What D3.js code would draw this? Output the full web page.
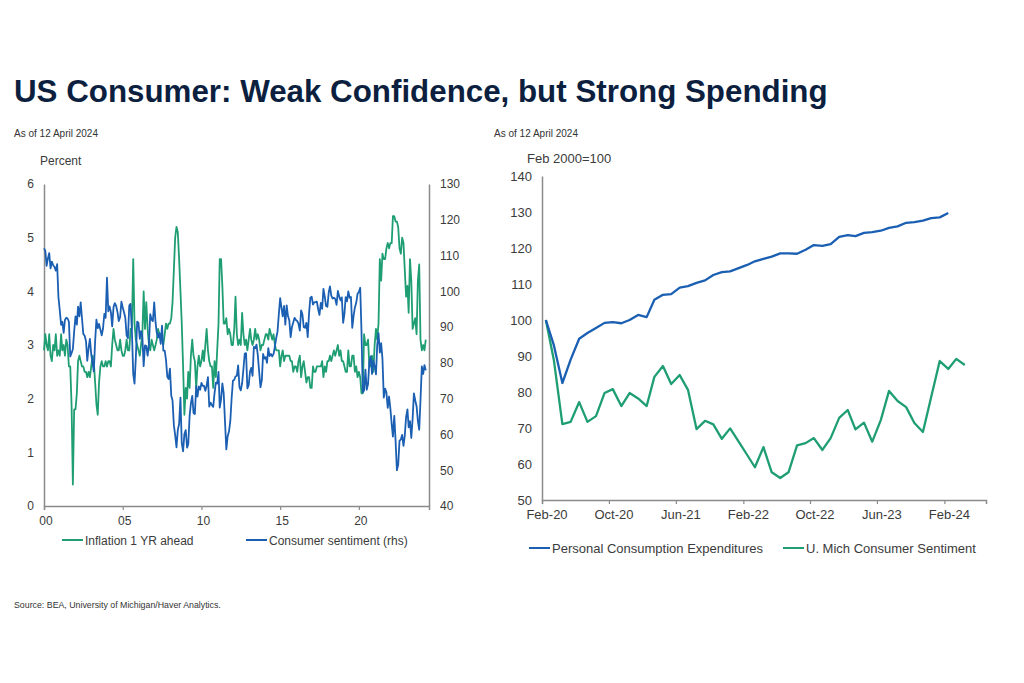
<!DOCTYPE html>
<html><head><meta charset="utf-8">
<script src="https://cdn.jsdelivr.net/npm/d3@7"></script>
<style>
body{margin:0;background:#fff;}
svg text{font-family:"Liberation Sans",Arial,Helvetica,sans-serif;}
</style>
</head><body>
<svg id="chart" width="1024" height="683"></svg>
<script>
// ---------------- DATA ----------------
// Left panel: monthly from Jan 2000
const leftStartYear = 2000;
const inflation1YrAhead = [
  2.9,3.2,3.0,2.9,3.2,2.8,2.7,3.0,2.9,3.2,2.8,2.9,   // 2000
  2.8,3.2,2.9,3.0,2.8,3.1,3.0,2.6,2.6,1.9,0.4,1.8,   // 2001
  1.8,2.1,2.7,2.8,2.7,2.6,2.6,2.5,2.5,2.4,2.5,2.4,   // 2002
  2.6,2.8,2.7,2.3,1.9,1.7,2.3,2.6,2.7,2.6,2.6,2.7,   // 2003
  2.6,2.7,2.7,2.6,3.0,3.3,3.1,3.0,2.9,2.9,3.1,2.9,   // 2004
  2.8,2.8,2.9,3.1,2.9,2.9,3.3,3.3,4.6,3.4,3.1,3.0,   // 2005
  2.9,2.8,3.0,3.2,4.0,3.3,3.8,3.3,3.0,2.9,3.1,3.0,   // 2006
  2.9,3.0,3.1,3.3,3.2,3.2,3.1,3.0,3.2,3.4,3.3,3.4,   // 2007
  3.4,3.5,3.8,4.4,5.0,5.2,5.1,4.6,4.0,3.4,2.6,1.7,   // 2008
  2.2,2.0,2.5,2.2,2.8,3.1,2.8,2.7,2.2,2.6,2.8,2.6,   // 2009
  2.7,2.9,2.7,3.0,3.3,2.9,2.7,2.6,2.6,2.2,2.7,2.4,   // 2010
  2.9,3.4,4.6,4.6,4.1,3.4,3.4,3.5,3.2,3.3,3.2,3.0,   // 2011
  3.0,3.3,3.9,3.2,3.0,3.1,3.0,3.6,3.2,3.0,3.1,2.9,   // 2012
  3.1,3.3,3.1,3.0,3.1,3.3,3.1,3.2,3.1,2.9,3.0,3.0,   // 2013
  3.1,3.2,3.2,3.1,3.3,3.2,3.1,3.2,3.0,2.9,2.9,2.9,   // 2014
  2.6,2.8,2.9,2.7,2.8,2.8,2.8,2.8,2.7,2.7,2.5,2.6,   // 2015
  2.6,2.5,2.7,2.8,2.4,2.6,2.7,2.5,2.3,2.4,2.4,2.2,   // 2016
  2.2,2.6,2.5,2.5,2.6,2.6,2.6,2.6,2.7,2.4,2.6,2.5,   // 2017
  2.7,2.7,2.8,2.7,2.8,2.9,2.8,2.9,3.0,2.8,2.9,2.7,   // 2018
  2.7,2.6,2.5,2.5,2.9,2.6,2.6,2.8,2.8,2.5,2.6,2.4,   // 2019
  2.5,2.4,2.1,2.1,3.2,3.0,3.0,3.1,2.6,2.6,2.8,2.5,   // 2020
  3.0,3.3,3.1,3.4,4.6,4.2,4.7,4.6,4.6,4.8,4.9,4.8,   // 2021
  4.9,4.9,5.4,5.4,5.3,5.3,5.2,4.8,4.7,5.0,4.9,4.4,   // 2022
  3.9,4.1,3.6,4.6,4.2,3.3,3.4,3.5,3.2,4.2,4.5,3.1,   // 2023
  2.9,3.0,2.9,3.1                                    // 2024
];
const consumerSentiment = [
  112.0,111.3,107.1,109.2,110.7,106.4,108.3,107.3,106.8,105.8,107.6,98.4, // 2000
  94.7,90.6,91.5,88.4,92.0,92.6,92.4,91.5,81.8,82.7,83.9,88.8,            // 2001
  93.0,90.7,95.7,93.0,96.9,92.4,88.1,87.6,86.1,80.6,84.2,86.7,            // 2002
  82.4,79.9,77.6,86.0,92.1,89.7,90.9,89.3,87.7,89.6,93.7,92.6,            // 2003
  103.8,94.4,95.8,94.2,90.2,95.6,96.7,95.9,94.2,91.7,92.8,97.1,           // 2004
  95.5,94.1,92.6,87.7,86.9,96.0,96.5,89.1,76.9,74.2,81.6,91.5,            // 2005
  91.2,86.7,88.9,87.4,79.1,84.9,84.7,82.0,85.4,93.6,92.1,91.7,            // 2006
  96.9,91.3,88.4,87.1,88.3,85.3,90.4,83.4,83.4,80.9,76.1,75.5,            // 2007
  78.4,70.8,69.5,62.6,59.8,56.4,61.2,63.0,70.3,57.6,55.3,60.1,            // 2008
  61.2,56.3,57.3,65.1,68.7,70.8,66.0,65.7,73.5,70.6,73.4,72.5,            // 2009
  74.4,73.6,73.6,72.2,73.6,76.0,67.8,68.9,68.2,67.7,71.6,74.5,            // 2010
  74.2,77.5,67.5,69.8,74.3,71.5,63.7,55.8,59.5,60.8,63.7,69.9,            // 2011
  75.0,75.3,76.2,76.4,79.3,73.2,72.3,74.3,78.3,82.6,82.7,72.9,            // 2012
  73.8,77.6,78.6,76.4,84.5,84.1,85.1,82.1,77.5,73.2,75.1,82.5,            // 2013
  81.2,81.6,80.0,84.1,81.9,82.5,81.8,82.5,84.6,86.9,88.8,93.6,            // 2014
  98.1,95.4,93.0,95.9,90.7,96.1,93.1,91.9,87.2,90.0,91.3,92.6,            // 2015
  92.0,91.7,91.0,89.0,94.7,93.5,90.0,89.8,91.2,87.2,93.8,98.2,            // 2016
  98.5,96.3,96.9,97.0,97.1,95.0,93.4,96.8,95.1,100.7,98.5,95.9,           // 2017
  95.7,99.7,101.4,98.8,98.0,98.2,97.9,96.2,100.1,98.6,97.5,98.3,          // 2018
  91.2,93.8,98.4,97.2,100.0,98.2,98.4,89.8,93.2,95.5,96.8,99.3,           // 2019
  99.8,101.0,89.1,71.8,72.3,78.1,72.5,74.1,80.4,81.8,76.9,80.7,           // 2020
  79.0,76.8,84.9,88.3,82.9,85.5,81.2,70.3,72.8,71.7,67.4,70.6,            // 2021
  67.2,62.8,59.4,65.2,58.4,50.0,51.5,58.2,58.6,59.9,56.8,59.7,            // 2022
  64.9,67.0,62.0,63.7,59.0,64.4,71.5,69.5,67.9,63.8,61.3,69.7,            // 2023
  79.0,76.9,79.4,77.9                                                     // 2024
];
const leftYLabels = [0,1,2,3,4,5,6];
const rightYLabelsL = [40,50,60,70,80,90,100,110,120,130];
const leftXLabels = ["00","05","10","15","20"];
const leftXYears = [2000,2005,2010,2015,2020];

// Right panel: monthly from Feb 2020 (Feb 2020 = 100)
const rightStart = [2020, 1]; // year, monthIndex (Feb)
const pce = [
  100,93.0,82.5,89.0,94.8,96.4,97.8,99.2,99.4,99.1,100.0,101.4,  // Feb20-Jan21
  100.8,105.6,107.0,107.2,109.0,109.4,110.3,111.0,112.5,113.3,113.5,114.4, // Feb21-Jan22
  115.3,116.3,117.0,117.6,118.5,118.5,118.4,119.5,120.8,120.6,121.1,123.1, // Feb22-Jan23
  123.6,123.3,124.2,124.4,124.8,125.6,126.0,127.0,127.2,127.6,128.3,128.5, // Feb23-Jan24
  129.7                                                                   // Feb24
];
const umichSentiment = [
  100,88.9,71.1,71.7,77.2,71.7,73.3,79.7,80.8,76.1,79.7,78.2,   // Feb20-Jan21
  76.1,84.2,87.2,82.2,84.7,80.6,69.7,72.0,71.0,67.0,69.9,66.2,  // Feb21-Jan22
  62.5,59.1,64.7,57.7,56.1,57.7,65.2,65.8,67.2,63.9,67.2,72.8,  // Feb22-Jan23
  75.0,69.6,71.5,66.2,72.2,80.3,77.5,75.8,71.4,68.9,78.6,88.6,  // Feb23-Jan24
  86.4,89.2,87.5                                               // Feb24-Apr24
];
const rightYLabels = [50,60,70,80,90,100,110,120,130,140];
const rightXLabels = ["Feb-20","Oct-20","Jun-21","Feb-22","Oct-22","Jun-23","Feb-24"];

// ---------------- STYLE ----------------
const GREEN = "#1f9e73", BLUE = "#1b5fb3", AXIS = "#8a8a8a", TXT = "#3b3b3b";

const svg = d3.select("#chart");

// Title
const title = svg.append("text").attr("x",14).attr("y",102)
  .attr("font-size",30).attr("font-weight","bold").attr("fill","#0c1f3f")
  .text("US Consumer: Weak Confidence, but Strong Spending");
const tw = title.node().getComputedTextLength();
title.attr("font-size", 30*814/tw);

svg.append("text").attr("x",14).attr("y",137).attr("font-size",10).attr("fill","#333").text("As of 12 April 2024");
svg.append("text").attr("x",494).attr("y",137).attr("font-size",10).attr("fill","#333").text("As of 12 April 2024");

// ---------------- LEFT PANEL ----------------
const L = {x0:44, x1:429, y0:506, y1:184};
const lx = d3.scaleTime().domain([new Date(2000,0,1), new Date(2024,5,15)]).range([L.x0, L.x1]);
const lyL = d3.scaleLinear().domain([0,6]).range([L.y0, L.y1]);
const lyR = d3.scaleLinear().domain([40,130]).range([L.y0, L.y1]);
const monthDate = (i)=> new Date(leftStartYear, i, 1);

svg.append("text").attr("x",40).attr("y",165).attr("font-size",12).attr("fill",TXT).text("Percent");

// axes
const gL = svg.append("g");
gL.append("g").attr("transform",`translate(${L.x0},0)`)
  .call(d3.axisLeft(lyL).tickValues(leftYLabels).tickSize(0).tickPadding(10).tickFormat(d3.format("d")))
  .call(g=>{g.select(".domain").attr("stroke",AXIS).attr("stroke-width",1.5);
            g.selectAll("text").attr("font-size",12).attr("fill",TXT).attr("font-family","Liberation Sans, Arial");});
gL.append("g").attr("transform",`translate(${L.x1},0)`)
  .call(d3.axisRight(lyR).tickValues(rightYLabelsL).tickSize(0).tickPadding(11).tickFormat(d3.format("d")))
  .call(g=>{g.select(".domain").attr("stroke",AXIS).attr("stroke-width",1.5);
            g.selectAll("text").attr("font-size",12).attr("fill",TXT).attr("font-family","Liberation Sans, Arial");});
gL.append("g").attr("transform",`translate(0,${L.y0})`)
  .call(d3.axisBottom(lx).tickValues(leftXYears.map(y=>new Date(y,0,1))).tickSize(4).tickPadding(6)
        .tickFormat((d,i)=>leftXLabels[i]))
  .call(g=>{g.select(".domain").attr("stroke",AXIS).attr("stroke-width",1.5);
            g.selectAll("line").attr("stroke",AXIS).attr("stroke-width",1.2);
            g.selectAll("text").attr("font-size",12).attr("fill",TXT).attr("dx",1.5).attr("font-family","Liberation Sans, Arial");});

const lineInf = d3.line().x((d,i)=>lx(monthDate(i))).y(d=>lyL(d));
const lineSent = d3.line().x((d,i)=>lx(monthDate(i))).y(d=>lyR(d));
svg.append("path").datum(inflation1YrAhead).attr("d",lineInf)
  .attr("fill","none").attr("stroke",GREEN).attr("stroke-width",1.8).attr("stroke-linejoin","round");
svg.append("path").datum(consumerSentiment).attr("d",lineSent)
  .attr("fill","none").attr("stroke",BLUE).attr("stroke-width",1.8).attr("stroke-linejoin","round");

// left legend
const legL = [{t:"Inflation 1 YR ahead",c:GREEN,x:62},{t:"Consumer sentiment (rhs)",c:BLUE,x:246}];
legL.forEach(d=>{
  svg.append("line").attr("x1",d.x).attr("x2",d.x+21).attr("y1",540).attr("y2",540).attr("stroke",d.c).attr("stroke-width",2);
  svg.append("text").attr("x",d.x+23).attr("y",544.5).attr("font-size",12).attr("fill",TXT).text(d.t);
});

// ---------------- RIGHT PANEL ----------------
const R = {x0:542, x1:986, y0:500, y1:176};
const rx = d3.scaleTime().domain([new Date(2020,1,1), new Date(2024,6,1)]).range([R.x0,R.x1]);
const ry = d3.scaleLinear().domain([50,140]).range([R.y0,R.y1]);
const rDate = (i)=> new Date(rightStart[0], rightStart[1]+i, 15);

svg.append("text").attr("x",527).attr("y",163).attr("font-size",13).attr("fill",TXT).text("Feb 2000=100");

const gR = svg.append("g");
gR.append("g").attr("transform",`translate(${R.x0},0)`)
  .call(d3.axisLeft(ry).tickValues(rightYLabels).tickSize(0).tickPadding(10).tickFormat(d3.format("d")))
  .call(g=>{g.select(".domain").attr("stroke",AXIS).attr("stroke-width",1.5);
            g.selectAll("text").attr("font-size",13).attr("fill",TXT).attr("font-family","Liberation Sans, Arial");});
const rTickDates = rightXLabels.map((s,i)=>new Date(2020,1+8*i,1));
gR.append("g").attr("transform",`translate(0,${R.y0})`)
  .call(d3.axisBottom(rx).tickValues(rTickDates).tickSize(4).tickPadding(6).tickFormat((d,i)=>rightXLabels[i]))
  .call(g=>{g.select(".domain").attr("stroke",AXIS).attr("stroke-width",1.5);
            g.selectAll("line").attr("stroke",AXIS).attr("stroke-width",1.2);
            g.selectAll("text").attr("font-size",13).attr("fill",TXT).attr("dx",4.5).attr("font-family","Liberation Sans, Arial");});

const rLine = d3.line().x((d,i)=>rx(rDate(i))).y(d=>ry(d));
svg.append("path").datum(umichSentiment).attr("d",rLine)
  .attr("fill","none").attr("stroke",GREEN).attr("stroke-width",2.3).attr("stroke-linejoin","round");
svg.append("path").datum(pce).attr("d",rLine)
  .attr("fill","none").attr("stroke",BLUE).attr("stroke-width",2.3).attr("stroke-linejoin","round");

const legR = [{t:"Personal Consumption Expenditures",c:BLUE,x:529},{t:"U. Mich Consumer Sentiment",c:GREEN,x:783}];
legR.forEach(d=>{
  svg.append("line").attr("x1",d.x).attr("x2",d.x+21).attr("y1",548).attr("y2",548).attr("stroke",d.c).attr("stroke-width",2);
  svg.append("text").attr("x",d.x+23).attr("y",552.5).attr("font-size",13).attr("fill",TXT).text(d.t);
});

// Source
svg.append("text").attr("x",14).attr("y",608).attr("font-size",8.8).attr("fill","#333")
  .text("Source: BEA, University of Michigan/Haver Analytics.");
</script>
</body></html>
